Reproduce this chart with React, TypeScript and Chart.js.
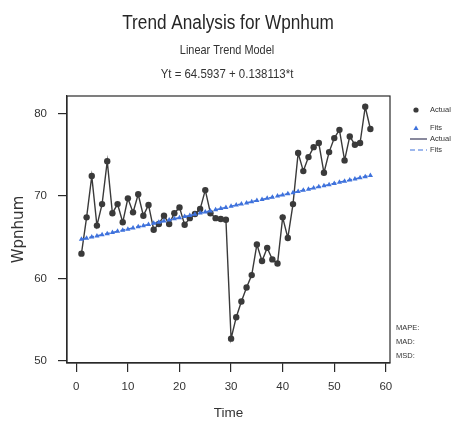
import React, { useEffect, useRef } from "react";
import { Chart, registerables } from "chart.js";

Chart.register(...registerables);

const timeIndex = [
  1, 2, 3, 4, 5, 6, 7, 8, 9, 10, 11, 12, 13, 14, 15, 16, 17, 18, 19, 20,
  21, 22, 23, 24, 25, 26, 27, 28, 29, 30, 31, 32, 33, 34, 35, 36, 37, 38, 39, 40,
  41, 42, 43, 44, 45, 46, 47, 48, 49, 50, 51, 52, 53, 54, 55, 56, 57,
];

const actualValues = [
  63.0, 67.4, 72.4, 66.4, 69.0, 74.2, 67.9, 69.0, 66.8, 69.7,
  68.0, 70.2, 67.6, 68.9, 65.9, 66.6, 67.6, 66.6, 67.9, 68.6,
  66.5, 67.3, 67.8, 68.4, 70.7, 67.9, 67.3, 67.2, 67.1, 52.7,
  55.3, 57.2, 58.9, 60.4, 64.1, 62.1, 63.7, 62.3, 61.8, 67.4,
  64.9, 69.0, 75.2, 73.0, 74.7, 75.9, 76.4, 72.8, 75.3, 77.0,
  78.0, 74.3, 77.2, 76.2, 76.4, 80.8, 78.1,
];

const fitValues = [
  64.73, 64.87, 65.01, 65.15, 65.28, 65.42, 65.56, 65.70, 65.84, 65.97,
  66.11, 66.25, 66.39, 66.53, 66.67, 66.80, 66.94, 67.08, 67.22, 67.36,
  67.49, 67.63, 67.77, 67.91, 68.05, 68.18, 68.32, 68.46, 68.60, 68.74,
  68.88, 69.01, 69.15, 69.29, 69.43, 69.57, 69.70, 69.84, 69.98, 70.12,
  70.26, 70.39, 70.53, 70.67, 70.81, 70.95, 71.09, 71.22, 71.36, 71.50,
  71.64, 71.78, 71.91, 72.05, 72.19, 72.33, 72.47,
];

const xTickValues = [0, 10, 20, 30, 40, 50, 60];
const yTickValues = [50, 60, 70, 80];

const titleText = "Trend Analysis for Wpnhum";
const subtitleLines = ["Linear Trend Model", "Yt = 64.5937 + 0.138113*t"];
const xAxisTitle = "Time";
const yAxisTitle = "Wpnhum";
const legendLabels = ["Actual", "Fits", "Actual", "Fits"];
const accuracyLabels = ["MAPE:", "MAD:", "MSD:"];

const SANS = "'Liberation Sans', Arial, sans-serif";
const TEXT = "#333333";
const ACTUAL_COLOR = "#3a3a3a";
const FIT_COLOR = "#3f72dc";

function narrowText(ctx: any, text: string, cx: number, y: number, size: number, squeeze: number) {
  ctx.save();
  ctx.translate(cx, y);
  ctx.scale(squeeze, 1);
  ctx.font = `${size}px ${SANS}`;
  ctx.textAlign = "center";
  ctx.textBaseline = "alphabetic";
  ctx.fillText(text, 0, 0);
  ctx.restore();
}

const decorPlugin = {
  id: "decor",
  afterDraw(chart: any) {
    const { ctx, chartArea } = chart;
    ctx.save();
    // plot frame
    ctx.strokeStyle = "#2a2a2a";
    ctx.lineWidth = 1.2;
    ctx.strokeRect(chartArea.left, chartArea.top, chartArea.right - chartArea.left, chartArea.bottom - chartArea.top);

    // titles
    ctx.fillStyle = "#262626";
    narrowText(ctx, titleText, 228, 28.5, 20, 0.86);
    ctx.fillStyle = TEXT;
    narrowText(ctx, subtitleLines[0], 227, 53.5, 13, 0.84);
    narrowText(ctx, subtitleLines[1], 227, 77.5, 13.3, 0.86);

    // legend
    const lx = 416;
    const tx = 430;
    ctx.font = `7.5px ${SANS}`;
    ctx.textAlign = "left";
    ctx.textBaseline = "middle";
    ctx.fillStyle = ACTUAL_COLOR;
    ctx.beginPath();
    ctx.arc(lx, 110, 2.6, 0, Math.PI * 2);
    ctx.fill();
    ctx.fillStyle = FIT_COLOR;
    ctx.beginPath();
    ctx.moveTo(lx, 125.5);
    ctx.lineTo(lx + 2.6, 130);
    ctx.lineTo(lx - 2.6, 130);
    ctx.closePath();
    ctx.fill();
    ctx.strokeStyle = "#3b3b5c";
    ctx.lineWidth = 1.2;
    ctx.beginPath();
    ctx.moveTo(410, 139);
    ctx.lineTo(427, 139);
    ctx.stroke();
    ctx.strokeStyle = FIT_COLOR;
    ctx.setLineDash([5, 3]);
    ctx.beginPath();
    ctx.moveTo(410, 150);
    ctx.lineTo(427, 150);
    ctx.stroke();
    ctx.setLineDash([]);
    ctx.fillStyle = TEXT;
    ctx.fillText(legendLabels[0], tx, 110);
    ctx.fillText(legendLabels[1], tx, 128);
    ctx.fillText(legendLabels[2], tx, 139);
    ctx.fillText(legendLabels[3], tx, 150);

    // accuracy measures
    ctx.fillText(accuracyLabels[0], 396, 328);
    ctx.fillText(accuracyLabels[1], 396, 342);
    ctx.fillText(accuracyLabels[2], 396, 356);
    ctx.restore();
  },
};

export default function App() {
  const canvasRef = useRef<HTMLCanvasElement | null>(null);

  useEffect(() => {
    document.body.style.margin = "0";
    const canvas = canvasRef.current;
    if (!canvas) return;
    const actualData = timeIndex.map((t, i) => ({ x: t, y: actualValues[i] }));
    const fitData = timeIndex.map((t, i) => ({ x: t, y: fitValues[i] }));

    const chart = new Chart(canvas, {
      type: "line",
      data: {
        datasets: [
          {
            label: "Actual",
            data: actualData,
            borderColor: ACTUAL_COLOR,
            backgroundColor: ACTUAL_COLOR,
            borderWidth: 1.4,
            pointRadius: 3.2,
            pointStyle: "circle",
            pointBorderWidth: 0,
            tension: 0,
            order: 2,
          },
          {
            label: "Fits",
            data: fitData,
            borderColor: FIT_COLOR,
            backgroundColor: FIT_COLOR,
            borderWidth: 1.6,
            borderDash: [5, 3],
            pointRadius: 3,
            pointStyle: "triangle",
            pointBorderWidth: 0,
            tension: 0,
            order: 1,
          },
        ],
      },
      options: {
        responsive: false,
        animation: false,
        layout: { padding: { top: 96, right: 64, bottom: 0, left: 0 } },
        plugins: {
          legend: { display: false },
          title: { display: false },
          tooltip: { enabled: false },
        },
        scales: {
          x: {
            type: "linear",
            min: -1.8,
            max: 60.8,
            afterBuildTicks: (scale: any) => {
              scale.ticks = xTickValues.map((v) => ({ value: v }));
            },
            afterFit: (scale: any) => {
              scale.height = 59;
            },
            grid: {
              drawOnChartArea: false,
              drawTicks: true,
              tickLength: 9,
              color: "#2a2a2a",
              lineWidth: 1.2,
            },
            border: { display: true, color: "#2a2a2a", width: 1.2 },
            ticks: {
              padding: 8,
              color: TEXT,
              font: { family: SANS, size: 11.5 },
              maxRotation: 0,
            },
            title: {
              display: true,
              text: xAxisTitle,
              color: TEXT,
              font: { family: SANS, size: 13.5 },
              padding: { top: 0, bottom: 1 },
            },
          },
          y: {
            type: "linear",
            min: 49.75,
            max: 82.1,
            afterBuildTicks: (scale: any) => {
              scale.ticks = yTickValues.map((v) => ({ value: v }));
            },
            afterFit: (scale: any) => {
              scale.width = 67;
            },
            grid: {
              drawOnChartArea: false,
              drawTicks: true,
              tickLength: 9,
              color: "#2a2a2a",
              lineWidth: 1.2,
            },
            border: { display: true, color: "#2a2a2a", width: 1.2 },
            ticks: {
              padding: 11,
              color: TEXT,
              font: { family: SANS, size: 11.5 },
            },
            title: {
              display: true,
              text: yAxisTitle,
              color: TEXT,
              font: { family: "'DejaVu Sans', sans-serif", size: 15 },
              padding: { top: 10, bottom: 0 },
            },
          },
        },
      },
      plugins: [decorPlugin],
    });

    return () => {
      chart.destroy();
    };
  }, []);

  return (
    <div style={{ position: "absolute", left: 0, top: 0, width: 454, height: 422, background: "#ffffff" }}>
      <canvas ref={canvasRef} width={454} height={422} />
    </div>
  );
}
